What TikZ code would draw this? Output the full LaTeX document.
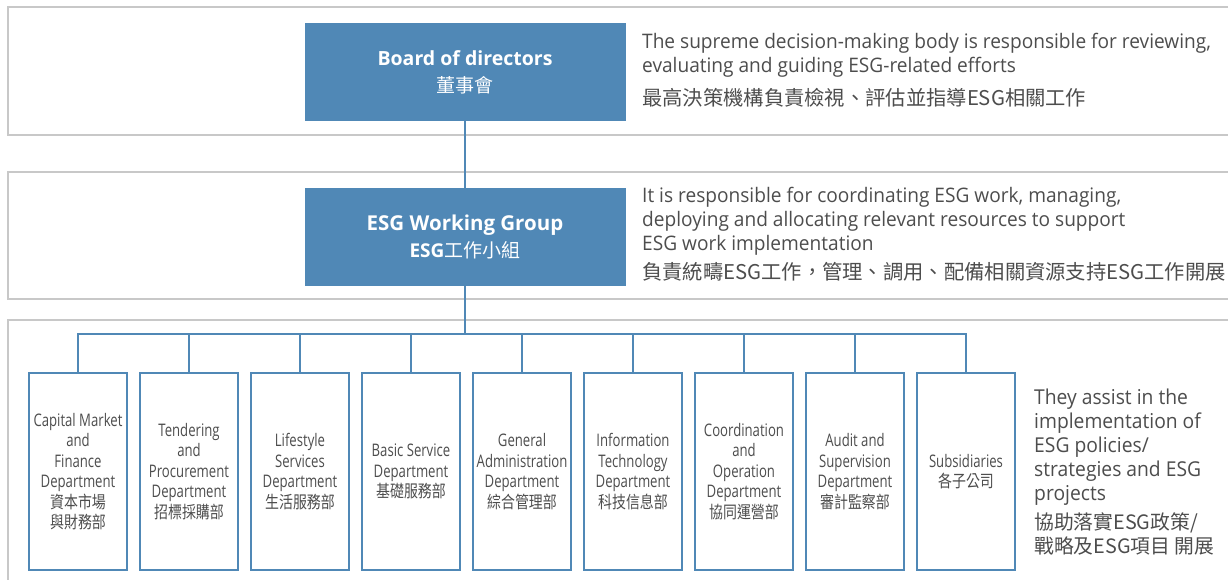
\documentclass[tikz,border=0pt]{standalone}
\usepackage{fontspec}
\setmainfont{Open Sans}
\newfontfamily\descfont[FakeStretch=0.955]{Open Sans}
\newfontfamily\ddfont[FakeStretch=0.94]{Open Sans}
\newfontfamily\deptfont[FakeStretch=0.76]{Open Sans}
\newfontfamily\cjk{Noto Sans CJK TC}
\newfontfamily\cjkcond[FakeStretch=0.82]{Noto Sans CJK TC}
\definecolor{boxblue}{HTML}{5088B6}
\definecolor{panelgray}{HTML}{C8C8C8}
\definecolor{txtgray}{HTML}{4D4D4D}
\newcommand{\dcjk}[1]{{\cjkcond\fontsize{17}{22}\selectfont #1}}
\tikzset{
  panel/.style={draw=panelgray, line width=1.6pt},
  topbox/.style={fill=boxblue, draw=none, minimum width=321pt, minimum height=98pt,
    inner sep=0pt, text=white, align=center, font=\fontsize{19.5}{27}\selectfont\bfseries},
  deptbox/.style={draw=boxblue, line width=1.5pt, fill=white, minimum width=98pt, minimum height=197pt,
    inner sep=0pt, text=txtgray, align=center, font=\deptfont\fontsize{17.3}{20.5}\selectfont},
  link/.style={draw=boxblue, line width=1.8pt},
  desc/.style={text=txtgray, inner sep=0pt, align=left, anchor=base west,
    font=\descfont\fontsize{20}{24}\selectfont},
  cdesc/.style={text=txtgray, inner sep=0pt, anchor=base west, font=\cjk\fontsize{20.3}{24}\selectfont},
}
\begin{document}
\begin{tikzpicture}[x=1pt,y=-1pt]
\useasboundingbox (0,0) rectangle (1228,579);
\clip (0,0) rectangle (1228,579);
\fill[white] (0,0) rectangle (1228,579);
% panels
\draw[panel] (8,7) rectangle (1250,135);
\draw[panel] (8,172) rectangle (1250,299);
\draw[panel] (8,320) rectangle (1250,600);
% top boxes
\node[topbox] (board) at (465,72) {Board of directors\\{\cjk\mdseries\fontsize{19}{27}\selectfont 董事會}};
\node[topbox, font=\fontsize{20.5}{27}\selectfont\bfseries] (esg) at (465,237) {ESG Working Group\\{\fontsize{19}{27}\selectfont ESG}{\cjk\mdseries\fontsize{19}{27}\selectfont 工作小組}};
\coordinate (bus) at (465,334);
\draw[link] (board.south) -- (esg.north);
\draw[link] (esg.south) -- (bus);
% departments
\node[deptbox] (d1) at (78,471.5) {Capital Market\\and\\Finance\\Department\\\dcjk{資本市場}\\\dcjk{與財務部}};
\node[deptbox] (d2) at (189,471.5) {Tendering\\and\\Procurement\\Department\\\dcjk{招標採購部}};
\node[deptbox] (d3) at (300,471.5) {Lifestyle\\Services\\Department\\\dcjk{生活服務部}};
\node[deptbox] (d4) at (411,471.5) {Basic Service\\Department\\\dcjk{基礎服務部}};
\node[deptbox] (d5) at (522,471.5) {General\\Administration\\Department\\\dcjk{綜合管理部}};
\node[deptbox] (d6) at (633,471.5) {Information\\Technology\\Department\\\dcjk{科技信息部}};
\node[deptbox] (d7) at (744,471.5) {Coordination\\and\\Operation\\Department\\\dcjk{協同運營部}};
\node[deptbox] (d8) at (855,471.5) {Audit and\\Supervision\\Department\\\dcjk{審計監察部}};
\node[deptbox] (d9) at (966,471.5) {Subsidiaries\\\dcjk{各子公司}};
\draw[link] (d1.north) -- (d1.north |- bus) -- (d9.north |- bus) -- (d9.north);
\foreach \d in {d2,d3,d4,d5,d6,d7,d8}{
  \draw[link] (\d.north) -- (\d.north |- bus);
}
% descriptions (base anchor = baseline of last line)
\node[desc] (bdesc) at (642,72) {The supreme decision-making body is responsible for reviewing,\\evaluating and guiding ESG-related efforts};
\node[cdesc] (bcdesc) at (642,105) {最高決策機構負責檢視、評估並指導ESG相關工作};
\node[desc] (edesc) at (642,250) {It is responsible for coordinating ESG work, managing,\\deploying and allocating relevant resources to support\\ESG work implementation};
\node[cdesc] (ecdesc) at (642,279) {負責統疇ESG工作，管理、調用、配備相關資源支持ESG工作開展};
\node[desc, font=\ddfont\fontsize{20.5}{24}\selectfont] (ddesc) at (1034,500) {They assist in the\\implementation of\\ESG policies/\\strategies and ESG\\projects};
\node[cdesc, font=\cjk\fontsize{19.8}{24}\selectfont, align=left] (dcdesc) at (1034,553) {協助落實ESG政策/\\戰略及ESG項目 開展};
\end{tikzpicture}
\end{document}
